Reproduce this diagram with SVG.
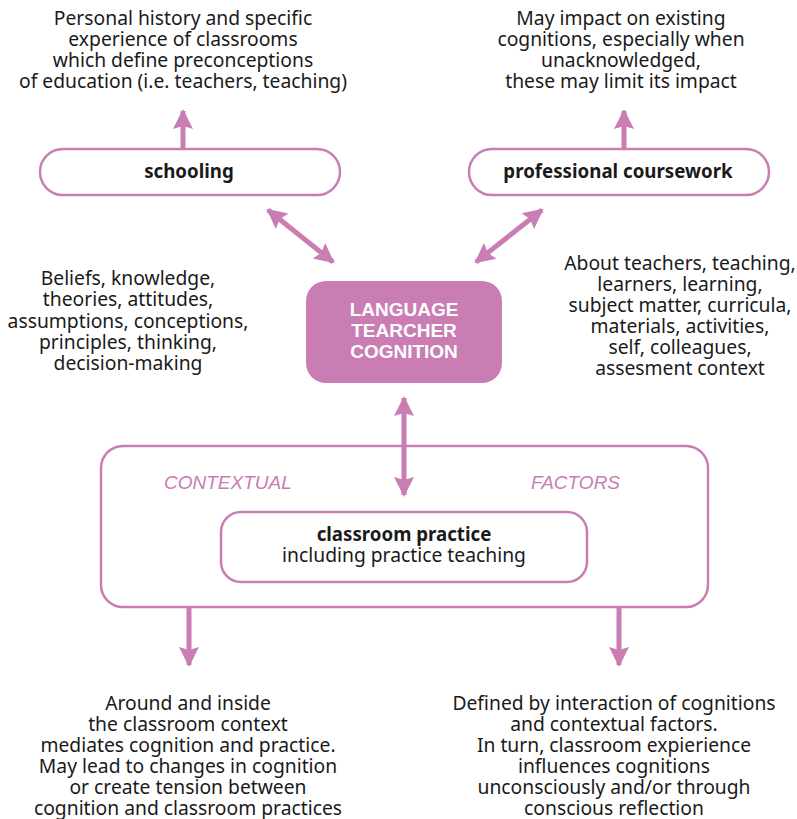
<svg xmlns="http://www.w3.org/2000/svg" width="797" height="819" viewBox="0 0 797 819">
<defs>
<marker id="ah" viewBox="0 0 10 10" refX="9" refY="5" markerWidth="4.4" markerHeight="4" orient="auto-start-reverse" markerUnits="strokeWidth">
<path d="M0,0 L10,5 L0,10 L1.5,5 Z" fill="#c97db3"/>
</marker>
</defs>
<style>
.t{font-family:"Noto Sans","Liberation Sans",sans-serif;font-size:19.3px;fill:#1a1a1a;text-anchor:middle}
.b{font-weight:bold;font-size:18.7px}
.box{fill:#fff;stroke:#c97db3;stroke-width:2.5}
.c{stroke:#c97db3;stroke-width:5;fill:none}
.w{font-family:"Liberation Sans",Arial,sans-serif;font-size:19px;font-weight:bold;fill:#fff;text-anchor:middle}
.p{font-family:"Liberation Sans",Arial,sans-serif;font-size:19px;font-style:italic;fill:#c97db3}
</style>
<rect width="797" height="819" fill="#fff"/>
<g id="note-schooling">
<text class="t" x="183" y="25">Personal history and specific</text>
<text class="t" x="183" y="46">experience of classrooms</text>
<text class="t" x="183" y="67">which define preconceptions</text>
<text class="t" x="183" y="88">of education (i.e. teachers, teaching)</text>
</g>
<g id="note-coursework">
<text class="t" x="621" y="25">May impact on existing</text>
<text class="t" x="621" y="46">cognitions, especially when</text>
<text class="t" x="621" y="67">unacknowledged,</text>
<text class="t" x="621" y="88">these may limit its impact</text>
</g>
<g id="schooling">
<rect class="box" x="40" y="149" width="300" height="46" rx="23"/>
<text class="t b" x="189" y="178">schooling</text>
</g>
<g id="coursework">
<rect class="box" x="469" y="149" width="300" height="46" rx="23"/>
<text class="t b" x="618" y="178">professional coursework</text>
</g>
<g id="note-left">
<text class="t" x="128" y="285">Beliefs, knowledge,</text>
<text class="t" x="128" y="306">theories, attitudes,</text>
<text class="t" x="128" y="328">assumptions, conceptions,</text>
<text class="t" x="128" y="349">principles, thinking,</text>
<text class="t" x="128" y="370">decision-making</text>
</g>
<g id="note-right">
<text class="t" x="680" y="270">About teachers, teaching,</text>
<text class="t" x="680" y="291">learners, learning,</text>
<text class="t" x="680" y="312">subject matter, curricula,</text>
<text class="t" x="680" y="333">materials, activities,</text>
<text class="t" x="680" y="354">self, colleagues,</text>
<text class="t" x="680" y="375">assesment context</text>
</g>
<g id="cognition">
<rect x="306" y="281" width="196" height="102" rx="20" fill="#c97db3"/>
<text class="w" x="404" y="316">LANGUAGE</text>
<text class="w" x="404" y="337">TEARCHER</text>
<text class="w" x="404" y="358">COGNITION</text>
</g>
<g id="contextual-factors">
<rect class="box" x="101" y="446" width="607" height="161" rx="22"/>
<text class="p" x="164" y="489">CONTEXTUAL</text>
<text class="p" x="531" y="489">FACTORS</text>
</g>
<g id="classroom-practice">
<rect class="box" x="221" y="512" width="366" height="70" rx="20"/>
<text class="t b" x="404" y="541">classroom practice</text>
<text class="t" x="404" y="562">including practice teaching</text>
</g>
<g id="note-bottom-left">
<text class="t" x="188" y="710">Around and inside</text>
<text class="t" x="188" y="731">the classroom context</text>
<text class="t" x="188" y="752">mediates cognition and practice.</text>
<text class="t" x="188" y="773">May lead to changes in cognition</text>
<text class="t" x="188" y="794">or create tension between</text>
<text class="t" x="188" y="815">cognition and classroom practices</text>
</g>
<g id="note-bottom-right">
<text class="t" x="614" y="710">Defined by interaction of cognitions</text>
<text class="t" x="614" y="731">and contextual factors.</text>
<text class="t" x="614" y="752">In turn, classroom expierience</text>
<text class="t" x="614" y="773">influences cognitions</text>
<text class="t" x="614" y="794">unconsciously and/or through</text>
<text class="t" x="614" y="815">conscious reflection</text>
</g>
<g id="connectors">
<line class="c" x1="183" y1="149" x2="183" y2="111" marker-end="url(#ah)"/>
<line class="c" x1="624" y1="149" x2="624" y2="111" marker-end="url(#ah)"/>
<line class="c" x1="268" y1="210" x2="333" y2="262" marker-start="url(#ah)" marker-end="url(#ah)"/>
<line class="c" x1="542" y1="210" x2="476" y2="262" marker-start="url(#ah)" marker-end="url(#ah)"/>
<line class="c" x1="404" y1="398" x2="404" y2="495" marker-start="url(#ah)" marker-end="url(#ah)"/>
<line class="c" x1="189" y1="608" x2="189" y2="665" marker-end="url(#ah)"/>
<line class="c" x1="619" y1="608" x2="619" y2="665" marker-end="url(#ah)"/>
</g>
</svg>
